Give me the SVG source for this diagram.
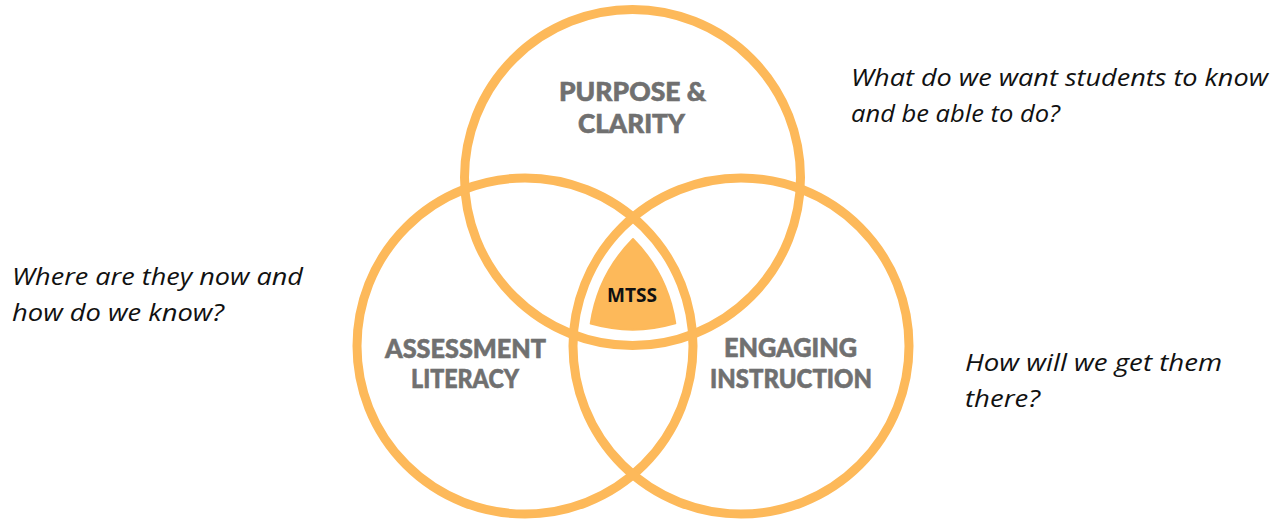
<svg xmlns="http://www.w3.org/2000/svg" width="1277" height="521" viewBox="0 0 1277 521">
<style>
.ring{fill:none;stroke:#FDB95A;stroke-width:9}
.lbl{font-family:Lato,"Open Sans","Liberation Sans",sans-serif;font-weight:900;font-size:27px;fill:#707070;stroke:#707070;stroke-width:0.6;text-anchor:middle}
.q{font-family:"Open Sans","Liberation Sans",sans-serif;font-style:italic;font-size:24px;fill:#111111}
.core{font-family:"Open Sans","Liberation Sans",sans-serif;font-weight:700;font-size:19px;fill:#111111;text-anchor:middle}
</style>
<rect width="1277" height="521" fill="#ffffff"/>
<g id="purpose-clarity">
<circle class="ring" cx="632.5" cy="177.5" r="168"/>
<text class="lbl" x="632.5" y="101" textLength="147" lengthAdjust="spacingAndGlyphs">PURPOSE &amp;</text>
<text class="lbl" x="631.5" y="133" textLength="107" lengthAdjust="spacingAndGlyphs">CLARITY</text>
</g>
<g id="assessment-literacy">
<circle class="ring" cx="525" cy="346" r="168"/>
<text class="lbl" x="465.5" y="358" textLength="161" lengthAdjust="spacingAndGlyphs">ASSESSMENT</text>
<text class="lbl" x="465" y="388" textLength="108" lengthAdjust="spacingAndGlyphs">LITERACY</text>
</g>
<g id="engaging-instruction">
<circle class="ring" cx="741" cy="346" r="168"/>
<text class="lbl" x="790.5" y="357" textLength="133" lengthAdjust="spacingAndGlyphs">ENGAGING</text>
<text class="lbl" x="791" y="388" textLength="162" lengthAdjust="spacingAndGlyphs">INSTRUCTION</text>
</g>
<g id="mtss">
<path d="M633 239 A152 152 0 0 0 590.7 323.6 A152 152 0 0 0 675.3 323.4 A152 152 0 0 0 633 239 Z" fill="#FDB95A" stroke="#FDB95A" stroke-width="2" stroke-linejoin="round"/>
<text class="core" x="632" y="302" textLength="50" lengthAdjust="spacingAndGlyphs">MTSS</text>
</g>
<g id="question-purpose">
<text class="q" x="851" y="86" textLength="417" lengthAdjust="spacingAndGlyphs">What do we want students to know</text>
<text class="q" x="851" y="122" textLength="209" lengthAdjust="spacingAndGlyphs">and be able to do?</text>
</g>
<g id="question-assessment">
<text class="q" x="12" y="285" textLength="291" lengthAdjust="spacingAndGlyphs">Where are they now and</text>
<text class="q" x="12" y="321" textLength="212" lengthAdjust="spacingAndGlyphs">how do we know?</text>
</g>
<g id="question-instruction">
<text class="q" x="965" y="371" textLength="257" lengthAdjust="spacingAndGlyphs">How will we get them</text>
<text class="q" x="965" y="407" textLength="75" lengthAdjust="spacingAndGlyphs">there?</text>
</g>
</svg>
